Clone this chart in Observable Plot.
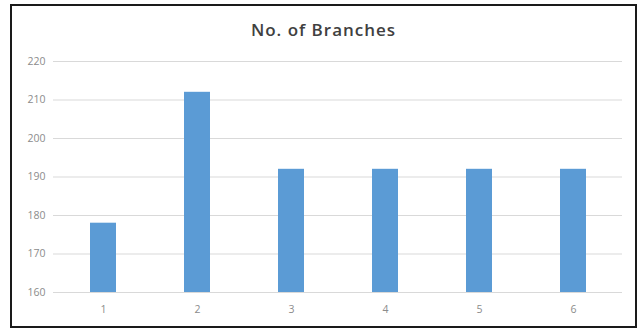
<!DOCTYPE html>
<html>
<head>
<meta charset="utf-8">
<script src="https://cdn.jsdelivr.net/npm/d3@7"></script>
<script src="https://cdn.jsdelivr.net/npm/@observablehq/plot@0.6"></script>
<style>
  html, body { margin: 0; padding: 0; background: #fff; }
  #frame {
    position: absolute; left: 10px; top: 4px;
    width: 623px; height: 320px;
    border: 2px solid #1a1a1a;
    background: #fff;
  }
  #title {
    height: 40px; line-height: 48px; text-align: center;
    font-family: "Open Sans", sans-serif; font-size: 17px; font-weight: 600;
    letter-spacing: 1px; color: #404040;
  }
</style>
</head>
<body>
<div id="frame">
  <div id="title">No. of Branches</div>
  <div id="chart"></div>
</div>
<script>
// Branch counts per category
const categories = ["1", "2", "3", "4", "5", "6"];
const branches = [178, 212, 192, 192, 192, 192];
const yTicks = [160, 170, 180, 190, 200, 210, 220];

const rows = categories.map((c, i) => ({category: c, value: branches[i]}));

const chart = Plot.plot({
  width: 623,
  height: 280,
  marginTop: 15,
  marginBottom: 34,
  marginLeft: 41,
  marginRight: 13,
  style: {fontFamily: "Open Sans, sans-serif", fontSize: "10.5px", color: "#8c8c8c", background: "transparent"},
  x: {domain: categories, padding: 0, label: null, tickSize: 0, tickPadding: 13},
  y: {domain: [160, 220], ticks: yTicks, label: null, tickSize: 0, tickPadding: 8},
  marks: [
    Plot.gridY(yTicks, {stroke: "#d9d9d9", strokeOpacity: 1}),
    Plot.barY(rows, {x: "category", y1: 160, y2: "value", fill: "#5b9bd5", insetLeft: 34, insetRight: 34})
  ]
});
document.getElementById("chart").appendChild(chart);
</script>
</body>
</html>
